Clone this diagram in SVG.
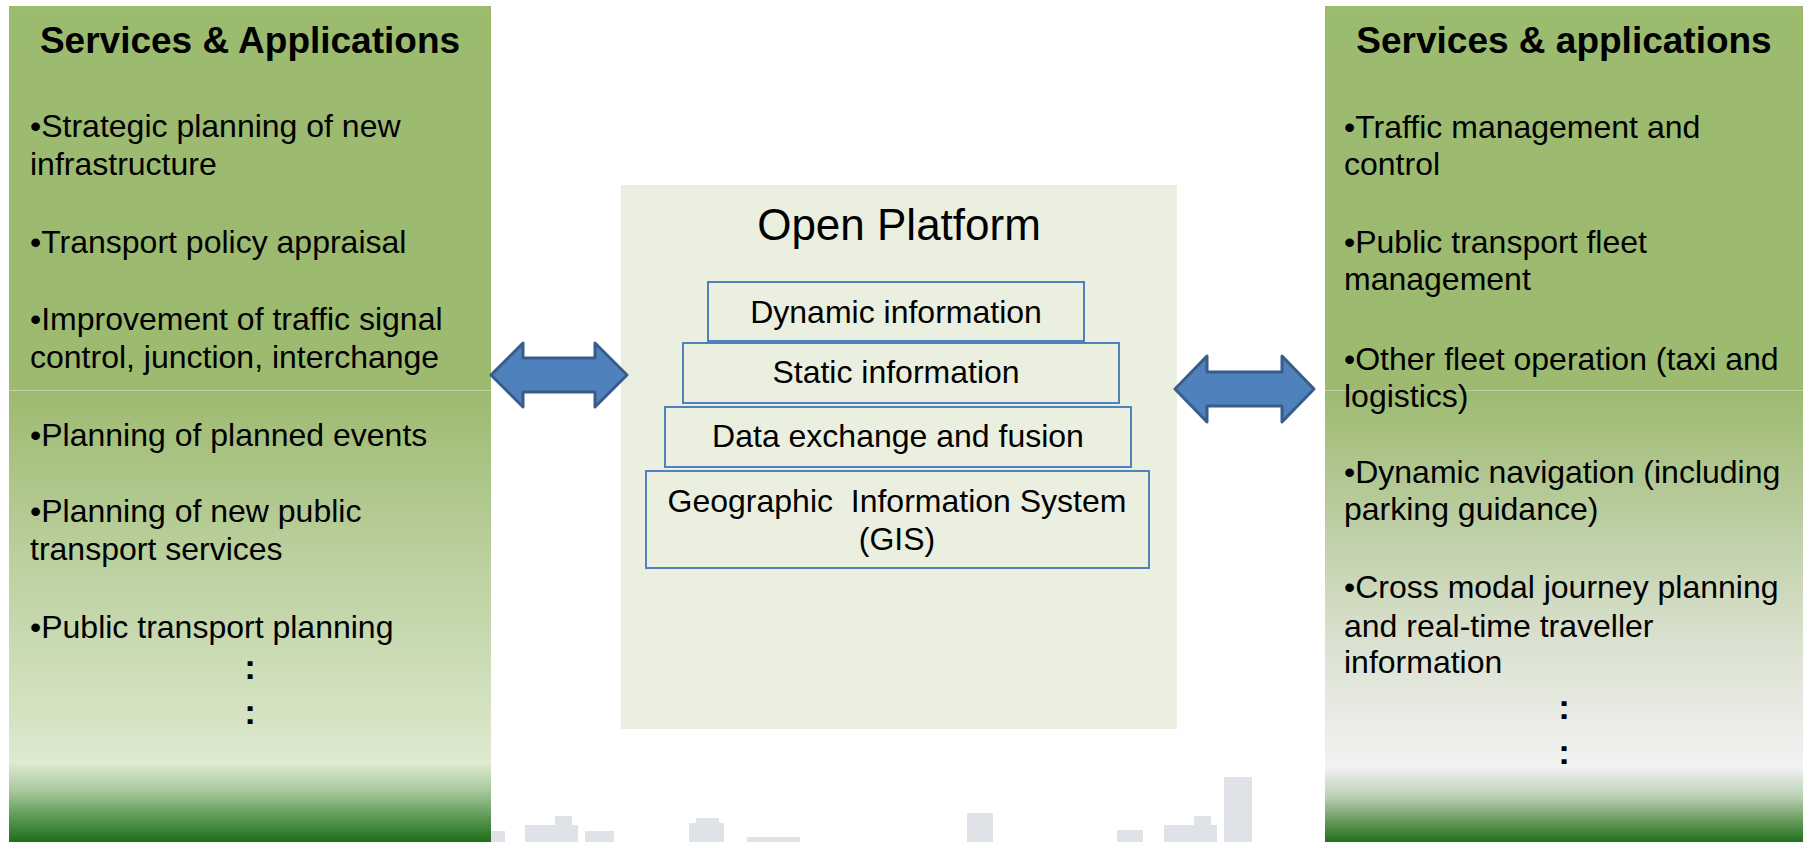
<svg xmlns="http://www.w3.org/2000/svg" width="1803" height="842" viewBox="0 0 1803 842">
<defs>
<linearGradient id="gLeft" gradientUnits="userSpaceOnUse" x1="0" y1="6" x2="0" y2="842">
<stop offset="0" stop-color="#9BBB6F"/>
<stop offset="0.46" stop-color="#9DBA70"/>
<stop offset="0.65" stop-color="#B9CF9C"/>
<stop offset="0.85" stop-color="#D5E3C3"/>
<stop offset="0.905" stop-color="#DFEAD2"/>
<stop offset="0.94" stop-color="#A5C69A"/>
<stop offset="0.97" stop-color="#5D9955"/>
<stop offset="1" stop-color="#1E6E1C"/>
</linearGradient>
<linearGradient id="gRight" gradientUnits="userSpaceOnUse" x1="0" y1="6" x2="0" y2="842">
<stop offset="0" stop-color="#9BBB6F"/>
<stop offset="0.46" stop-color="#9DBA70"/>
<stop offset="0.61" stop-color="#BACDA0"/>
<stop offset="0.77" stop-color="#DCE2D2"/>
<stop offset="0.91" stop-color="#F2F2F2"/>
<stop offset="0.945" stop-color="#BCD1B6"/>
<stop offset="0.975" stop-color="#66995A"/>
<stop offset="1" stop-color="#206F1E"/>
</linearGradient>
</defs>
<style>
.title{font-family:"Liberation Sans",Arial,sans-serif;font-weight:bold;font-size:37px;fill:#000;text-anchor:middle}
.body{font-family:"Liberation Sans",Arial,sans-serif;font-size:32px;fill:#000}
.dots{font-family:"Liberation Sans",Arial,sans-serif;font-weight:bold;font-size:35px;fill:#000;text-anchor:middle}
.layer{fill:none;stroke:#4F81BD;stroke-width:2}
.ltxt{font-family:"Liberation Sans",Arial,sans-serif;font-size:32px;fill:#000;text-anchor:middle}
.op{font-family:"Liberation Sans",Arial,sans-serif;font-size:44px;fill:#000;text-anchor:middle}
.arrow{fill:#4F81BD;stroke:#385D8A;stroke-width:3;stroke-linejoin:round}
.bld{fill:#DFE2E6}
.sep{stroke:#FFFFFF;stroke-opacity:0.35;stroke-width:1}
</style>
<rect width="1803" height="842" fill="#FFFFFF"/>
<g id="skyline">
<rect class="bld" x="491" y="831" width="14" height="11"/>
<rect class="bld" x="525" y="825" width="53" height="17"/>
<rect class="bld" x="555" y="816" width="17" height="26"/>
<rect class="bld" x="585" y="831" width="29" height="11"/>
<rect class="bld" x="689" y="823" width="35" height="19"/>
<rect class="bld" x="696" y="818" width="23" height="24"/>
<rect class="bld" x="747" y="837" width="53" height="5"/>
<rect class="bld" x="967" y="813" width="26" height="29"/>
<rect class="bld" x="1117" y="830" width="26" height="12"/>
<rect class="bld" x="1164" y="825" width="53" height="17"/>
<rect class="bld" x="1194" y="816" width="17" height="26"/>
<rect class="bld" x="1224" y="777" width="28" height="65"/>
</g>
<g id="left-panel">
<rect x="9" y="6" width="482" height="836" fill="url(#gLeft)"/>
<line class="sep" x1="9" y1="390.5" x2="491" y2="390.5"/>
<text class="title" x="250" y="53">Services &amp; Applications</text>
<text class="body" x="30" y="137">•Strategic planning of new</text>
<text class="body" x="30" y="175">infrastructure</text>
<text class="body" x="30" y="253">•Transport policy appraisal</text>
<text class="body" x="30" y="330">•Improvement of traffic signal</text>
<text class="body" x="30" y="368">control, junction, interchange</text>
<text class="body" x="30" y="446">•Planning of planned events</text>
<text class="body" x="30" y="522">•Planning of new public</text>
<text class="body" x="30" y="560">transport services</text>
<text class="body" x="30" y="638">•Public transport planning</text>
<text class="dots" x="250" y="679">:</text>
<text class="dots" x="250" y="724">:</text>
</g>
<g id="open-platform">
<rect x="621" y="185" width="556" height="544" fill="#EBEFDF"/>
<text class="op" x="899" y="240">Open Platform</text>
<g id="layer-dynamic">
<rect class="layer" x="708" y="282" width="376" height="59"/>
<text class="ltxt" x="896" y="323">Dynamic information</text>
</g>
<g id="layer-static">
<rect class="layer" x="683" y="343" width="436" height="60"/>
<text class="ltxt" x="896" y="383">Static information</text>
</g>
<g id="layer-data">
<rect class="layer" x="665" y="407" width="466" height="60"/>
<text class="ltxt" x="898" y="447">Data exchange and fusion</text>
</g>
<g id="layer-gis">
<rect class="layer" x="646" y="471" width="503" height="97"/>
<text class="ltxt" x="897" y="512" xml:space="preserve">Geographic  Information System</text>
<text class="ltxt" x="897" y="550">(GIS)</text>
</g>
</g>
<g id="right-panel">
<rect x="1325" y="6" width="478" height="836" fill="url(#gRight)"/>
<line class="sep" x1="1325" y1="390.5" x2="1803" y2="390.5"/>
<text class="title" x="1564" y="53">Services &amp; applications</text>
<text class="body" x="1344" y="138">•Traffic management and</text>
<text class="body" x="1344" y="175">control</text>
<text class="body" x="1344" y="253">•Public transport fleet</text>
<text class="body" x="1344" y="290">management</text>
<text class="body" x="1344" y="370">•Other fleet operation (taxi and</text>
<text class="body" x="1344" y="407">logistics)</text>
<text class="body" x="1344" y="483">•Dynamic navigation (including</text>
<text class="body" x="1344" y="520">parking guidance)</text>
<text class="body" x="1344" y="598">•Cross modal journey planning</text>
<text class="body" x="1344" y="637">and real-time traveller</text>
<text class="body" x="1344" y="673">information</text>
<text class="dots" x="1564" y="719">:</text>
<text class="dots" x="1564" y="764">:</text>
</g>
<g id="connectors">
<polygon class="arrow" points="491,375 523,343 523,358 595,358 595,343 627,375 595,407 595,392 523,392 523,407"/>
<polygon class="arrow" points="1175,389 1207,356 1207,372 1282,372 1282,356 1314,389 1282,422 1282,406 1207,406 1207,422"/>
</g>
</svg>
